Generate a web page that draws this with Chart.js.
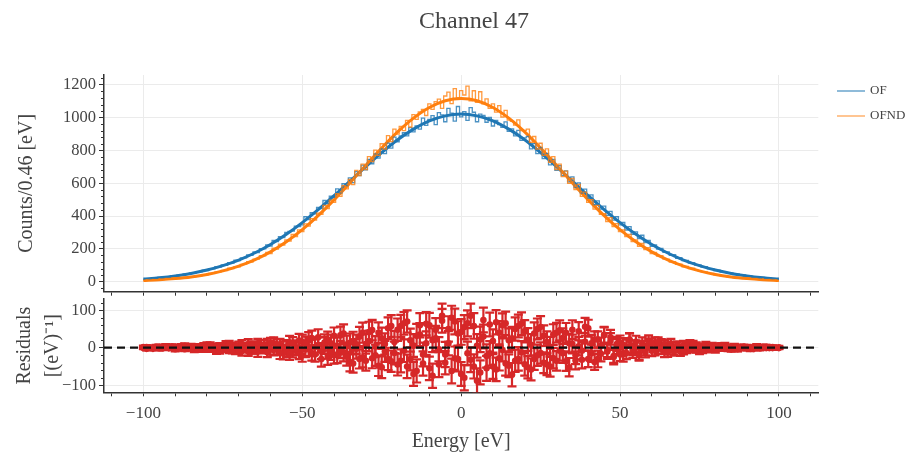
<!DOCTYPE html>
<html>
<head>
<meta charset="utf-8">
<script src="https://cdn.jsdelivr.net/npm/chart.js@4.4.1/dist/chart.umd.min.js"></script>
<style>
  html, body { margin: 0; padding: 0; background: #fff; }
  #wrap { position: relative; width: 917px; height: 455px; }
  #top { position: absolute; left: 0; top: 0; }
  #bottom { position: absolute; left: 0; top: 270px; }
</style>
</head>
<body>
<div id="wrap">
  <canvas id="top" width="917" height="312"></canvas>
  <canvas id="bottom" width="917" height="185"></canvas>
</div>
<script>
// Channel 47 - OF / OFND spectra with gaussian fits, residuals below

const TITLE = 'Channel 47';
const X_MIN = -112.4, X_MAX = 112.4;

// histogram bin centres [eV]
const binCenters = Array.from({ length: 201 }, (_, i) => i - 100);

const ofCounts = [
  15, 19, 17, 22, 21,  26, 23, 30, 28, 35,  33, 40, 38, 47, 45,  53, 51, 61, 60, 70,
  68, 80, 79, 91, 89,  102, 99, 116, 114, 131,  128, 145, 146, 163, 160,  181, 178, 202, 200, 224,
  217, 251, 245, 274, 269,  301, 306, 309, 339, 336,  346, 396, 378, 421, 414,  453, 446, 495, 476, 521,
  514, 566, 540, 597, 586,  633, 604, 671, 647, 711,  682, 746, 719, 779, 753,  809, 781, 845, 814, 881,
  853, 888, 908, 889, 939,  913, 949, 930, 997, 953,  989, 1012, 958, 1031, 1017,  975, 1056, 1027, 979, 1068,
  1005,
  1037, 984, 1061, 1033, 975,  1022, 1014, 972, 1001, 949,  984, 957, 941, 974, 916,  931, 889, 923, 861, 877,
  885, 810, 842, 781, 818,  750, 782, 712, 746, 678,  708, 647, 676, 609, 639,  573, 603, 540, 564, 509,
  529, 470, 493, 442, 461,  404, 429, 375, 396, 346,  361, 315, 336, 289, 304,  262, 283, 238, 251, 215,
  224, 199, 203, 179, 181,  160, 165, 143, 147, 128,  130, 113, 116, 101, 102,  89, 92, 78, 80, 68,
  71, 59, 61, 51, 53,  44, 47, 38, 41, 33,  35, 28, 30, 24, 26,  21, 22, 17, 19, 15
];

const ofndCounts = [
  7, 9, 8, 11, 10,  13, 12, 16, 15, 19,  18, 22, 21, 26, 25,  31, 30, 37, 36, 43,
  42, 50, 51, 59, 60,  69, 68, 82, 80, 92,  91, 106, 107, 122, 120,  138, 137, 158, 157, 178,
  172, 204, 199, 229, 223,  255, 248, 289, 275, 316,  305, 353, 339, 384, 376,  418, 410, 465, 446, 497,
  484, 537, 520, 585, 566,  624, 592, 679, 647, 717,  684, 763, 732, 802, 770,  841, 809, 890, 854, 930,
  899, 947, 921, 983, 943,  1019, 990, 1035, 1051, 1013,  1084, 1050, 1098, 1113, 1056,  1132, 1155, 1085, 1177, 1121,
  1165,
  1138, 1192, 1102, 1164, 1094,  1158, 1084, 1115, 1056, 1084,  1034, 1073, 1004, 1044, 985,  977, 954, 986, 921, 922,
  930, 850, 885, 809, 844,  770, 810, 728, 763, 684,  717, 641, 674, 600, 629,  562, 593, 520, 546, 484,
  500, 442, 465, 410, 415,  367, 391, 336, 354, 305,  316, 275, 289, 244, 255,  216, 234, 196, 208, 172,
  178, 156, 158, 138, 137,  120, 122, 106, 107, 91,  93, 80, 82, 69, 68,  60, 59, 51, 50, 42,
  43, 36, 37, 30, 31,  25, 26, 21, 22, 18,  19, 15, 16, 12, 13,  10, 11, 8, 9, 7
];

// fitted curves, sampled every 5 eV
const fitX = [
  -100, -95, -90, -85, -80, -75, -70, -65, -60, -55, -50, -45, -40, -35, -30, -25, -20, -15, -10, -5,
  0, 5, 10, 15, 20, 25, 30, 35, 40, 45, 50, 55, 60, 65, 70, 75, 80, 85, 90, 95, 100
];
const ofFit = [
  16, 24, 35, 50, 71, 98, 132, 175, 227, 289, 360, 439, 524, 613, 702, 787, 865, 930, 980, 1011,
  1022, 1011, 980, 930, 865, 787, 702, 613, 524, 439, 360, 289, 227, 175, 132, 98, 71, 50, 35, 24, 16
];
const ofndFit = [
  7, 12, 19, 29, 44, 66, 95, 133, 182, 243, 317, 403, 499, 602, 710, 815, 913, 997, 1062, 1103,
  1117, 1103, 1062, 997, 913, 815, 710, 602, 499, 403, 317, 243, 182, 133, 95, 66, 44, 29, 19, 12, 7
];

// fit residuals per bin
const residualsOf = [
  2, -3, 1, 0, 3, -2, 1, 4, -1, 2,
  -4, 1, -2, 5, 0, 3, -5, 2, -1, -3,
  6, -2, 1, -7, 3, 0, 8, -4, 2, -6,
  5, -9, 1, 10, -3, 2, -11, 6, -1, 9,
  -4, 12, -2, 7, -15, 3, 14, -8, 1, -12,
  16, -5, 22, -14, 2, 28, -9, 6, -24, 12,
  -20, 4, 33, -12, 8, -38, 18, -3, 30, -26,
  10, 42, -28, 3, -48, 25, -10, 52, -36, 15,
  -45, 58, -8, 70, -30, 6, -62, 35, -18, 64,
  -55, 20, 48, -4, 72, -40, 12, 80, -28, 38,
  -70, 55, -15, 85, -50, 5, -66, 30, -22, 62,
  18, -58, 40, -6, 65, -48, 25, -35, 58, -12,
  44, -52, 8, -30, 50, -14, 32, -45, 2, -28,
  40, -8, 26, -36, 12, 48, -20, 4, -32, 16,
  52, -15, 22, -30, 6, 34, -10, 18, -25, 3,
  14, -18, 4, 20, -10, 2, -16, 11, -5, 17,
  -8, 13, -3, 9, -12, 1, 11, -6, 2, -10,
  7, -3, 10, -2, 4, -7, 1, 6, -4, 0,
  -5, 3, -1, 5, -2, 0, 4, -3, 2, -1,
  2, -3, 0, 4, -2, 1, 3, -1, 2, 0, 1
];
const residualsOfnd = [
  -1, 2, 0, -3, 1, 3, -2, 0, -1, 4,
  3, -1, 5, -4, 0, -2, 4, -5, 1, 6,
  -5, 7, -1, 3, -8, 0, -3, 9, -6, 2,
  -7, 10, -2, -11, 6, -4, 12, 0, 8, -12,
  13, -6, 9, -15, 2, -9, -17, 11, -3, 19,
  -20, 11, -4, 26, -18, 7, -30, 14, 22, -10,
  32, -18, -5, 38, -24, 13, -42, 9, -30, 40,
  -35, 18, 47, -20, 40, -52, 10, -30, 58, -14,
  48, -35, 65, -50, 20, -70, 32, 60, -42, 12,
  60, -75, 25, -45, 85, -18, 50, -62, 70, -30,
  42, -80, 65, -32, 58, -88, 22, 74, -55, -15,
  -50, 68, -28, 60, -42, 20, -72, 50, -30, 64,
  -44, 22, -58, 38, -20, 55, -40, 15, -50, 35,
  -35, 46, -15, 40, -52, 10, -34, 44, -8, 56,
  -30, 12, -38, 22, -16, 34, -6, 28, -22, 10,
  -18, 8, -14, 22, -4, 16, -20, 3, -12, 9,
  11, -7, 15, -3, 9, -13, 4, -10, 7, -2,
  -8, 5, -2, 9, -5, 2, -7, 3, -1, 6,
  4, -2, 6, -1, 3, -5, 0, -4, 2, 3,
  -2, 1, -3, 2, 0, 3, -1, 2, -1, 0, -1
];
// poisson errors from the counts
const errOf = ofCounts.map(c => Math.sqrt(c));
const errOfnd = ofndCounts.map(c => Math.sqrt(c));

const LEGEND = ['OF', 'OFND'];

const AXIS = '#333';
const GRID = '#ebebeb';
const TEXT = '#444';
const RED = '#d62728';
const FONT = '"Liberation Serif", "Times New Roman", serif';

Chart.defaults.font.family = FONT;
Chart.defaults.font.size = 17;
Chart.defaults.color = TEXT;

const fmt = v => (v < 0 ? '\u2212' + Math.abs(v) : String(v));
const xy = (xs, ys) => xs.map((x, i) => ({ x, y: ys[i] }));

// small ticks on the y axis, between the labelled ones
const minorTicks = {
    id: 'minorTicks',
    afterDraw(chart, args, opts) {
        const { ctx, chartArea } = chart;
        const ys = chart.scales.y;
        ctx.save();
        ctx.strokeStyle = AXIS;
        ctx.lineWidth = 1;
        ctx.beginPath();
        for (let v = Math.ceil(ys.min / opts.step) * opts.step; v <= ys.max; v += opts.step) {
            if (v % opts.major === 0) continue;
            const y = Math.round(ys.getPixelForValue(v)) + 0.5;
            ctx.moveTo(chartArea.left - 3, y);
            ctx.lineTo(chartArea.left, y);
        }
        ctx.stroke();
        ctx.restore();
    }
};

// vertical error bars with caps, drawn under the markers
const errorBars = {
    id: 'errorBars',
    beforeDatasetDraw(chart, args) {
        const ds = chart.data.datasets[args.index];
        if (!ds.errors) return;
        const { ctx, chartArea } = chart;
        const xs = chart.scales.x, ys = chart.scales.y;
        ctx.save();
        ctx.beginPath();
        ctx.rect(chartArea.left, chartArea.top, chartArea.right - chartArea.left, chartArea.bottom - chartArea.top);
        ctx.clip();
        ctx.strokeStyle = ds.borderColor;
        ctx.lineWidth = 2.2;
        ctx.beginPath();
        ds.data.forEach((p, i) => {
            const x = xs.getPixelForValue(p.x);
            const lo = ys.getPixelForValue(p.y - ds.errors[i]);
            const hi = ys.getPixelForValue(p.y + ds.errors[i]);
            ctx.moveTo(x, lo); ctx.lineTo(x, hi);
            ctx.moveTo(x - 4.5, lo); ctx.lineTo(x + 4.5, lo);
            ctx.moveTo(x - 4.5, hi); ctx.lineTo(x + 4.5, hi);
        });
        ctx.stroke();
        ctx.restore();
    }
};

// legend outside the axes, top right
const sideLegend = {
    id: 'sideLegend',
    afterDraw(chart, args, opts) {
        const { ctx } = chart;
        ctx.save();
        ctx.font = '13px ' + FONT;
        ctx.textBaseline = 'middle';
        ctx.fillStyle = TEXT;
        LEGEND.forEach((name, i) => {
            const ds = chart.data.datasets.find(d => d.label === name);
            const y = opts.y + i * opts.gap;
            ctx.strokeStyle = ds.legendColor;
            ctx.lineWidth = 2;
            ctx.beginPath();
            ctx.moveTo(opts.x, y);
            ctx.lineTo(opts.x + 28, y);
            ctx.stroke();
            ctx.fillText(name, opts.x + 33, y);
        });
        ctx.restore();
    }
};

const figTitle = {
    id: 'figTitle',
    afterDraw(chart, args, opts) {
        const { ctx } = chart;
        ctx.save();
        ctx.font = '24px ' + FONT;
        ctx.fillStyle = TEXT;
        ctx.textAlign = 'center';
        ctx.textBaseline = 'middle';
        ctx.fillText(TITLE, opts.x, opts.y);
        ctx.restore();
    }
};

const xGrid = {
    color: c => (c.tick && c.tick.value % 50 === 0 ? GRID : 'rgba(0,0,0,0)'),
    tickColor: AXIS,
    tickLength: 4
};
const yGrid = { color: GRID, tickColor: AXIS, tickLength: 5 };
const border = { color: AXIS, width: 1.5 };
const rightPad = {
    position: 'right',
    display: true,
    ticks: { display: false },
    grid: { display: false, drawTicks: false },
    border: { display: false },
    afterFit: s => { s.width = 98.7; }
};

// ---- spectra ----
new Chart(document.getElementById('top'), {
    type: 'line',
    data: {
        datasets: [
            { label: 'OFND', data: xy(binCenters, ofndCounts), borderColor: 'rgba(255,127,14,0.8)',
              legendColor: 'rgba(255,127,14,0.45)', borderWidth: 1.3, stepped: 'middle', pointRadius: 0 },
            { label: 'OF', data: xy(binCenters, ofCounts), borderColor: 'rgba(31,119,180,0.8)',
              legendColor: 'rgba(31,119,180,0.5)', borderWidth: 1.3, stepped: 'middle', pointRadius: 0 },
            { label: 'OFND fit', data: xy(fitX, ofndFit), borderColor: '#ff7f0e', borderWidth: 3,
              pointRadius: 0, cubicInterpolationMode: 'monotone' },
            { label: 'OF fit', data: xy(fitX, ofFit), borderColor: '#1f77b4', borderWidth: 3,
              pointRadius: 0, cubicInterpolationMode: 'monotone' }
        ]
    },
    options: {
        responsive: false,
        animation: false,
        layout: { padding: { top: 75 } },
        plugins: {
            legend: { display: false },
            tooltip: { enabled: false },
            minorTicks: { step: 40, major: 200 },
            sideLegend: { x: 837, y: 91, gap: 25 },
            figTitle: { x: 474, y: 22 }
        },
        scales: {
            x: {
                type: 'linear', min: X_MIN, max: X_MAX,
                ticks: { stepSize: 10, includeBounds: false, autoSkip: false, maxRotation: 0, callback: () => '' },
                grid: xGrid, border,
                afterFit: s => { s.height = 20.3; }
            },
            y: {
                min: -61, max: 1260,
                ticks: { stepSize: 200, includeBounds: false, padding: 3, font: { size: 16.5 }, callback: fmt },
                grid: yGrid, border,
                title: { display: true, text: 'Counts/0.46 [eV]', font: { size: 20 }, padding: { top: 15 } },
                afterFit: s => { s.width = 104; }
            },
            yR: rightPad
        }
    },
    plugins: [minorTicks, sideLegend, figTitle]
});

// ---- residuals ----
new Chart(document.getElementById('bottom'), {
    type: 'line',
    data: {
        datasets: [
            { label: 'zero', data: [{ x: X_MIN, y: 0 }, { x: X_MAX, y: 0 }], borderColor: '#111',
              borderWidth: 2.2, borderDash: [8, 5], pointRadius: 0 },
            { label: 'OFND residuals', data: xy(binCenters, residualsOfnd), errors: errOfnd, showLine: false,
              borderColor: RED, backgroundColor: RED, pointRadius: 3.3, pointBorderWidth: 0 },
            { label: 'OF residuals', data: xy(binCenters, residualsOf), errors: errOf, showLine: false,
              borderColor: RED, backgroundColor: RED, pointRadius: 3.3, pointBorderWidth: 0 }
        ]
    },
    options: {
        responsive: false,
        animation: false,
        layout: { padding: { top: 29 } },
        plugins: {
            legend: { display: false },
            tooltip: { enabled: false },
            minorTicks: { step: 20, major: 100 }
        },
        scales: {
            x: {
                type: 'linear', min: X_MIN, max: X_MAX,
                ticks: { stepSize: 10, includeBounds: false, autoSkip: false, maxRotation: 0, padding: 7,
                         callback: v => (v % 50 === 0 ? fmt(v) : '') },
                grid: xGrid, border,
                title: { display: true, text: 'Energy [eV]', font: { size: 20 }, padding: { bottom: 1 } },
                afterFit: s => { s.height = 62.7; }
            },
            y: {
                min: -119, max: 130,
                ticks: { stepSize: 100, includeBounds: false, padding: 3, font: { size: 16.5 }, callback: fmt },
                grid: yGrid, border,
                title: { display: true, text: ['Residuals', '[(eV)\u207B\u00B9]'], font: { size: 20, lineHeight: 1.4 },
                         padding: { top: 11 } },
                afterFit: s => { s.width = 104; }
            },
            yR: rightPad
        }
    },
    plugins: [minorTicks, errorBars]
});
</script>
</body>
</html>
